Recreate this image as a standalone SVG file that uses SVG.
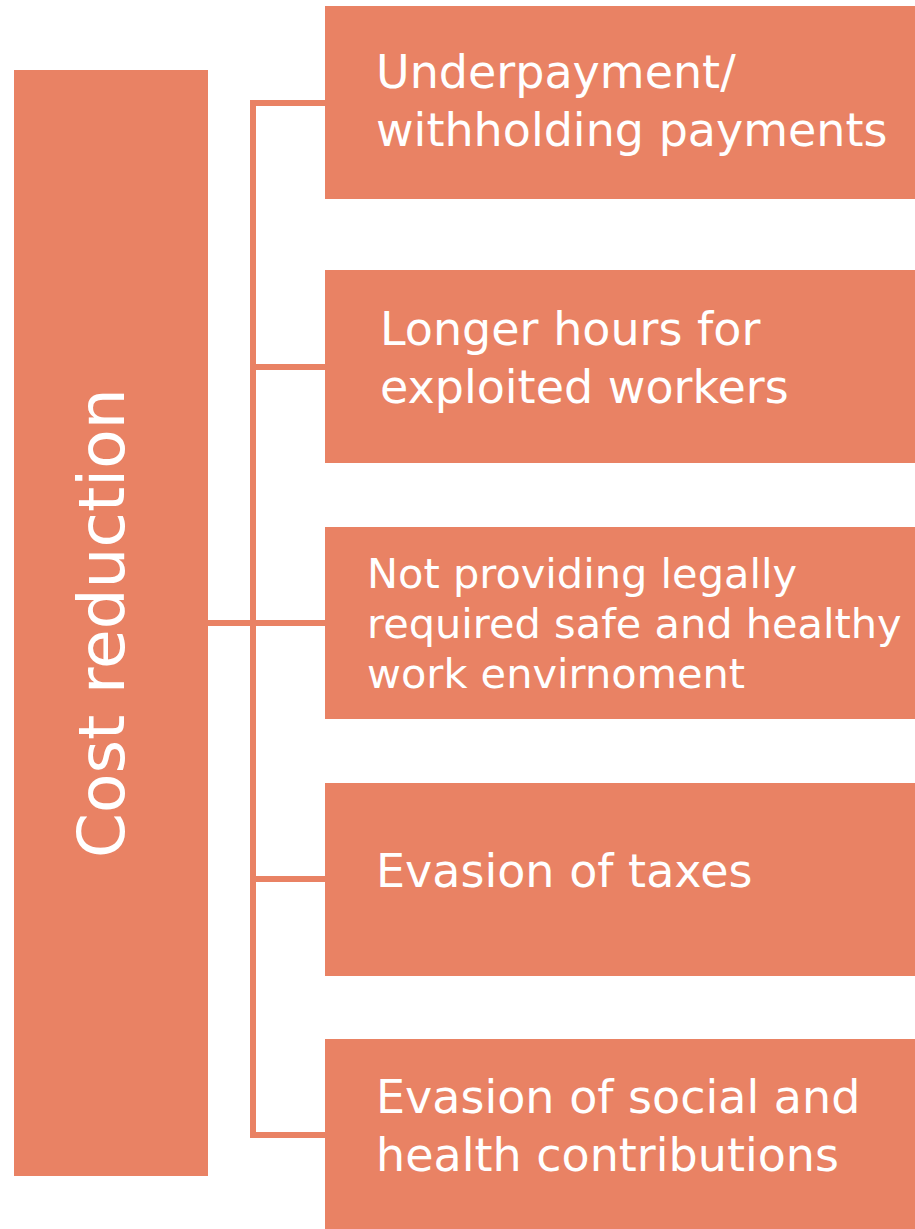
<svg xmlns="http://www.w3.org/2000/svg" width="915" height="1229" viewBox="0 0 915 1229">
<style>
.box{fill:#E98264}
.t{fill:#FFFFFF;font-family:"DejaVu Sans","Open Sans",sans-serif;font-size:46px}
.s{font-size:41.5px}
.c{fill:none;stroke:#E98264;stroke-width:6}
</style>
<rect width="915" height="1229" fill="#FFFFFF"/>
<g id="connectors">
<path class="c" d="M253 103 V1135"/>
<path class="c" d="M250 103 H326"/>
<path class="c" d="M250 1135 H326"/>
<path class="c" d="M208 623 H326"/>
<path class="c" d="M253 367 H326"/>
<path class="c" d="M253 879 H326"/>
</g>
<g id="cost-reduction">
<rect class="box" x="14" y="70" width="194" height="1106"/>
<text class="t" transform="translate(124,858) rotate(-90)" style="font-size:64.5px">Cost reduction</text>
</g>
<g id="underpayment">
<rect class="box" x="325" y="6" width="590" height="193"/>
<text class="t" x="376" y="88">Underpayment/</text>
<text class="t" x="376" y="146">withholding payments</text>
</g>
<g id="longer-hours">
<rect class="box" x="325" y="270" width="590" height="193"/>
<text class="t" x="380" y="345">Longer hours for</text>
<text class="t" x="380" y="403">exploited workers</text>
</g>
<g id="safe-environment">
<rect class="box" x="325" y="527" width="590" height="192"/>
<text class="t s" x="367" y="588">Not providing legally</text>
<text class="t s" x="367" y="638">required safe and healthy</text>
<text class="t s" x="367" y="688">work envirnoment</text>
</g>
<g id="taxes">
<rect class="box" x="325" y="783" width="590" height="193"/>
<text class="t" x="376" y="887">Evasion of taxes</text>
</g>
<g id="contributions">
<rect class="box" x="325" y="1039" width="590" height="190"/>
<text class="t" x="376" y="1113">Evasion of social and</text>
<text class="t" x="376" y="1171">health contributions</text>
</g>
</svg>
